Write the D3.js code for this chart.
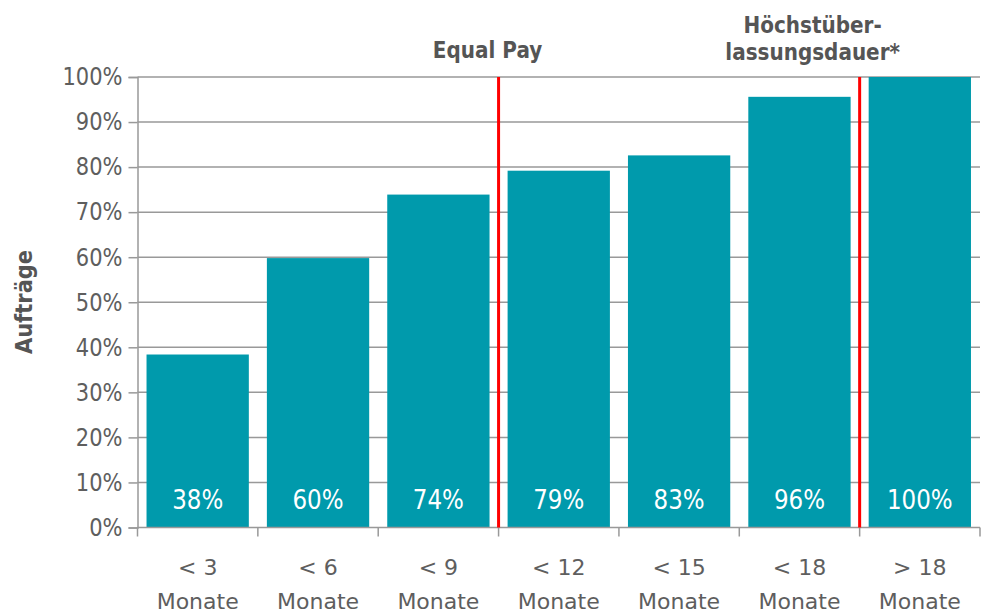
<!DOCTYPE html>
<html><head><meta charset="utf-8">
<script src="https://cdn.jsdelivr.net/npm/d3@7"></script>
<style>
body{margin:0;background:#fff;}
text{font-family:"DejaVu Sans",sans-serif;}
</style></head>
<body><svg id="c" width="981" height="615"></svg>
<script>
const categories = ["< 3", "< 6", "< 9", "< 12", "< 15", "< 18", "> 18"];
const categoryUnit = "Monate";
const values = [38.4, 59.8, 73.9, 79.2, 82.6, 95.6, 100];
const valueLabels = ["38%", "60%", "74%", "79%", "83%", "96%", "100%"];
const yTicks = [0, 10, 20, 30, 40, 50, 60, 70, 80, 90, 100];
const markers = [{after: "< 9", lines: ["Equal Pay"]}, {after: "< 18", lines: ["Höchstüber-", "lassungsdauer*"]}];
const yTitle = "Aufträge";

const svg = d3.select("#c");
const L = 137.5, R = 980, T = 77, B = 527.5;
const grey = "#999", txt = "#5e5e5e";
const x = d3.scaleBand().domain(categories).range([L, R]).paddingInner(0.15).paddingOuter(0.075);
const y = d3.scaleLinear().domain([0, 100]).range([B, T]);

// gridlines
svg.append("g").selectAll("line").data(yTicks.filter(d => d > 0)).join("line")
  .attr("x1", L).attr("x2", R).attr("y1", d => y(d)).attr("y2", d => y(d))
  .attr("stroke", grey).attr("stroke-width", 1.5);

// y axis
const ya = svg.append("g").attr("transform", `translate(${L},0)`)
  .call(d3.axisLeft(y).tickValues(yTicks).tickFormat(d => d + "%").tickSize(9).tickPadding(6));
ya.select(".domain").attr("stroke", grey).attr("stroke-width", 1.5);
ya.selectAll(".tick line").attr("stroke", grey).attr("stroke-width", 1.5);
ya.selectAll(".tick text").attr("fill", txt).attr("font-size", 21).attr("font-family", "DejaVu Sans")
  .attr("dy", null).attr("y", 6.5).attr("transform", "scale(1,1.2)");

// bars
svg.append("g").selectAll("rect").data(values).join("rect")
  .attr("x", (d, i) => x(categories[i])).attr("width", x.bandwidth())
  .attr("y", d => y(d)).attr("height", d => B - y(d))
  .attr("fill", "#009aac");

// bar labels
svg.append("g").selectAll("text").data(valueLabels).join("text")
  .attr("transform", (d, i) => `translate(${x(categories[i]) + x.bandwidth() / 2},509) scale(1,1.19)`)
  .attr("text-anchor", "middle").attr("fill", "#fff").attr("font-size", 23).text(d => d);

// x axis
const step = x.step();
const bounds = d3.range(categories.length + 1).map(i => L + i * step);
svg.append("line").attr("x1", L).attr("x2", R).attr("y1", B).attr("y2", B).attr("stroke", grey).attr("stroke-width", 1.5);
svg.append("g").selectAll("line").data(bounds).join("line")
  .attr("x1", d => d).attr("x2", d => d).attr("y1", B).attr("y2", B + 9)
  .attr("stroke", grey).attr("stroke-width", 1.5);
const xl = svg.append("g").selectAll("text").data(categories).join("text")
  .attr("text-anchor", "middle").attr("fill", txt).attr("font-size", 22);
xl.append("tspan").attr("x", d => x(d) + x.bandwidth() / 2).attr("y", 575).text(d => d);
xl.append("tspan").attr("x", d => x(d) + x.bandwidth() / 2).attr("y", 609).text(categoryUnit);

// red marker lines
const offsets = [-11, -47];
markers.forEach((m, k) => {
  const xi = x(m.after) + x.bandwidth() + step * x.paddingInner() / 2;
  svg.append("line").attr("x1", xi).attr("x2", xi).attr("y1", T).attr("y2", B)
    .attr("stroke", "#ff0000").attr("stroke-width", 3);
  const n = m.lines.length;
  m.lines.forEach((ln, j) => {
    svg.append("text").attr("transform", `translate(${xi + offsets[k]},${(n > 1 ? 60 : 58) - (n - 1 - j) * 27}) scale(1,1.12)`)
      .attr("text-anchor", "middle").attr("fill", "#555")
      .attr("font-weight", "bold").attr("font-size", 20).text(ln);
  });
});

// y title
svg.append("text").attr("transform", "translate(32,302) rotate(-90) scale(1.05,1.15)")
  .attr("text-anchor", "middle").attr("fill", "#555").attr("font-weight", "bold")
  .attr("font-size", 20).text(yTitle);
</script></body></html>
